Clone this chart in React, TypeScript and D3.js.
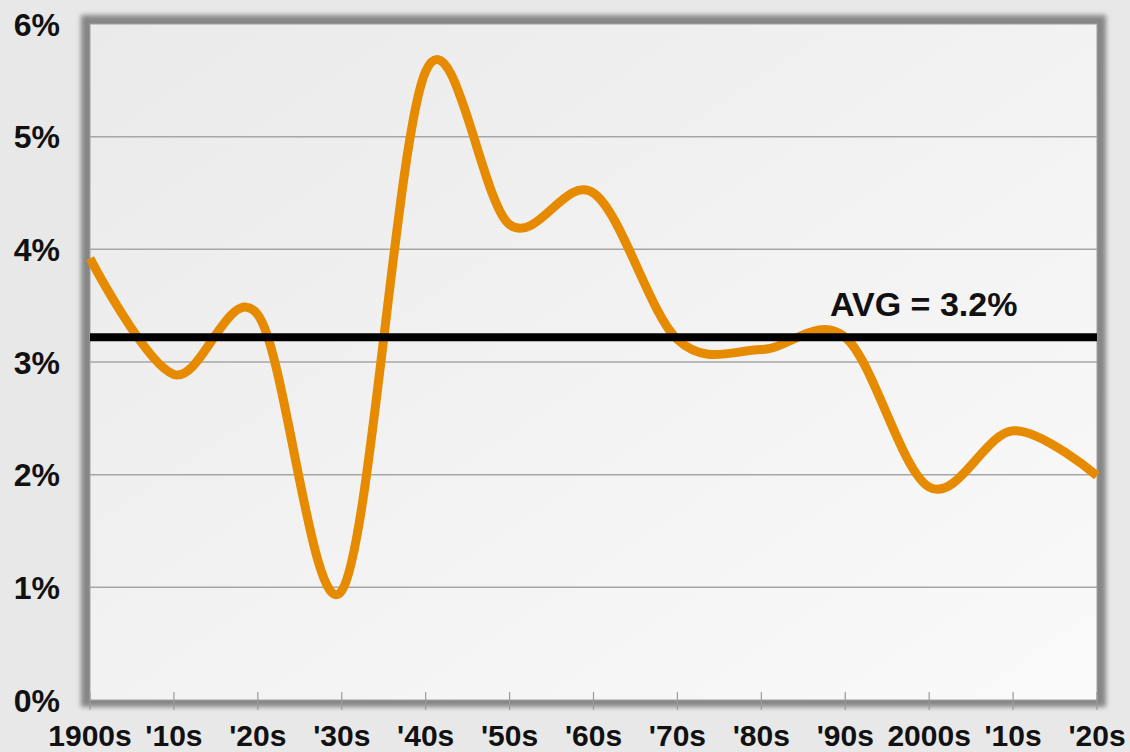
import React, { useEffect, useRef } from 'react'
import * as d3 from 'd3'

// decade labels along the bottom
const decades = ["1900s", "'10s", "'20s", "'30s", "'40s", "'50s", "'60s", "'70s", "'80s", "'90s", "2000s", "'10s", "'20s"]
// value per decade, in percent
const rates = [3.92, 2.89, 3.42, 0.97, 5.58, 4.22, 4.5, 3.2, 3.11, 3.22, 1.89, 2.39, 1.99]
const yTicks = [0, 1, 2, 3, 4, 5, 6]
const avgValue = 3.22
const avgLabel = "AVG = 3.2%"

function App() {
    const node = useRef<SVGSVGElement | null>(null)

    useEffect(() => {
	const width = 1130, height = 752
	const left = 90, right = 1097, top = 24, bottom = 700

	const svg = d3.select(node.current)
	svg.selectAll("*").remove()
	svg.attr("width", width).attr("height", height)

	const x = d3.scalePoint<number>()
	    .domain(d3.range(decades.length))
	    .range([left, right])
	const y = d3.scaleLinear()
	    .domain([0, 6])
	    .range([bottom, top])

	const defs = svg.append("defs")
	const grad = defs.append("linearGradient")
	    .attr("id", "plotbg")
	    .attr("x1", "0").attr("y1", "0").attr("x2", "1").attr("y2", "1")
	grad.append("stop").attr("offset", "0").attr("stop-color", "#eaeaea")
	grad.append("stop").attr("offset", "1").attr("stop-color", "#fafafa")
	defs.append("filter")
	    .attr("id", "blur")
	    .attr("x", "-5%").attr("y", "-5%").attr("width", "110%").attr("height", "110%")
	    .append("feGaussianBlur").attr("stdDeviation", 2.5)

	// page background
	svg.append("rect")
	    .attr("width", width).attr("height", height)
	    .style("fill", "#e8e8e8")

	// shadow frame + plot area
	svg.append("rect")
	    .attr("x", left - 9).attr("y", top - 9)
	    .attr("width", right - left + 18).attr("height", bottom - top + 16)
	    .style("fill", "#868686")
	    .attr("filter", "url(#blur)")
	svg.append("rect")
	    .attr("x", left).attr("y", top)
	    .attr("width", right - left).attr("height", bottom - top)
	    .style("fill", "url(#plotbg)")
	    .style("stroke", "#a0a0a0")
	    .style("stroke-width", 1)

	// gridlines
	svg.append("g")
	    .selectAll("line")
	    .data(yTicks.filter(d => d > 0 && d < 6))
	    .enter().append("line")
	    .attr("x1", left).attr("x2", right)
	    .attr("y1", d => y(d)).attr("y2", d => y(d))
	    .style("stroke", "#a6a6a6")
	    .style("stroke-width", 1.5)

	// x ticks
	svg.append("g")
	    .selectAll("line")
	    .data(d3.range(decades.length))
	    .enter().append("line")
	    .attr("x1", d => x(d)!).attr("x2", d => x(d)!)
	    .attr("y1", bottom - 8).attr("y2", bottom + 10)
	    .style("stroke", "#9a9a9a")
	    .style("stroke-width", 1.2)

	// y labels
	svg.append("g")
	    .selectAll("text")
	    .data(yTicks)
	    .enter().append("text")
	    .text(d => d + "%")
	    .attr("x", 60)
	    .attr("y", d => y(d))
	    .attr("dy", "0.36em")
	    .attr("text-anchor", "end")
	    .style("font-family", "'Liberation Sans', Arial, sans-serif")
	    .style("font-weight", "bold")
	    .style("font-size", "32px")
	    .style("fill", "#111")

	// x labels
	svg.append("g")
	    .selectAll("text")
	    .data(decades)
	    .enter().append("text")
	    .text(d => d)
	    .attr("x", (d, i) => x(i)!)
	    .attr("y", 746)
	    .attr("text-anchor", "middle")
	    .style("font-family", "'Liberation Sans', Arial, sans-serif")
	    .style("font-weight", "bold")
	    .style("font-size", "30px")
	    .style("fill", "#111")

	// rate curve
	const line = d3.line<number>()
	    .x((d, i) => x(i)!)
	    .y(d => y(d))
	    .curve(d3.curveCardinal.tension(0))
	svg.append("path")
	    .datum(rates)
	    .attr("d", line)
	    .style("fill", "none")
	    .style("stroke", "#e68a00")
	    .style("stroke-width", 9)

	// average
	svg.append("line")
	    .attr("x1", left).attr("x2", right)
	    .attr("y1", y(avgValue)).attr("y2", y(avgValue))
	    .style("stroke", "#000")
	    .style("stroke-width", 8)
	svg.append("text")
	    .text(avgLabel)
	    .attr("x", 830)
	    .attr("y", 316)
	    .style("font-family", "'Liberation Sans', Arial, sans-serif")
	    .style("font-weight", "bold")
	    .style("font-size", "34px")
	    .style("fill", "#111")
    }, [])

    return <svg ref={node} style={{ position: "absolute", left: 0, top: 0 }}></svg>
}

export default App
